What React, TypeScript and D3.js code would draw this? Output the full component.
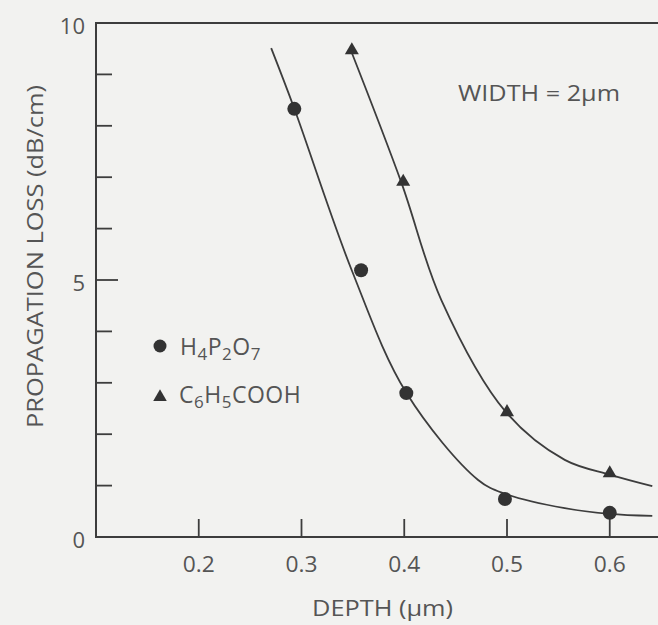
import React from "react";
import * as d3 from "d3";

// ---- data ----
const xTicks = [0.2, 0.3, 0.4, 0.5, 0.6];
const yMinorTicks = [1, 2, 3, 4, 6, 7, 8, 9];
const yMajorTicks = [0, 5, 10];

// H4P2O7 measured points
const h4Depth = [0.293, 0.358, 0.402, 0.498, 0.6];
const h4Loss = [8.33, 5.19, 2.8, 0.74, 0.47];
// C6H5COOH measured points
const c6Depth = [0.349, 0.399, 0.5, 0.6];
const c6Loss = [9.47, 6.91, 2.43, 1.24];

// fitted curves (hand-drawn in the original)
const h4FitDepth = [0.2705, 0.2927, 0.3489, 0.4022, 0.4719, 0.4981, 0.5562, 0.5998, 0.6414];
const h4FitLoss = [9.51, 8.35, 5.19, 2.8, 1.11, 0.84, 0.56, 0.45, 0.41];
const c6FitDepth = [0.348, 0.3973, 0.4361, 0.499, 0.5562, 0.6007, 0.6414];
const c6FitLoss = [9.47, 6.89, 4.61, 2.43, 1.5, 1.21, 0.99];

const W = 658;
const H = 625;
const BG = "#f2f2f0";
const INK = "#3d3d3d";
const TXT = "#555555";
const FONT = "'Open Sans', 'Noto Sans', sans-serif";

export default function App() {
  const x = d3.scaleLinear().domain([0.1, 0.2]).range([96, 198.75]);
  const y = d3.scaleLinear().domain([0, 10]).range([537, 23]);
  const x0 = x(0.1);
  const y0 = y(0);

  const line = d3
    .line<[number, number]>()
    .x((d) => x(d[0]))
    .y((d) => y(d[1]))
    .curve(d3.curveCatmullRom.alpha(0.5));

  const h4Fit = h4FitDepth.map((d, i) => [d, h4FitLoss[i]] as [number, number]);
  const c6Fit = c6FitDepth.map((d, i) => [d, c6FitLoss[i]] as [number, number]);

  const tri = d3.symbol().type(d3.symbolTriangle).size(85)();
  const triLegend = d3.symbol().type(d3.symbolTriangle).size(80)();

  return (
    <svg
      width={W}
      height={H}
      style={{ position: "absolute", left: 0, top: 0, background: BG }}
      fontFamily={FONT}
    >
      <rect x={0} y={0} width={W} height={H} fill={BG} />
      {/* axes */}
      <line x1={x0} y1={y(10)} x2={W} y2={y(10)} stroke={INK} strokeWidth={2} />
      <line x1={x0} y1={y(10) - 1} x2={x0} y2={y0 + 1} stroke={INK} strokeWidth={2} />
      <line x1={x0} y1={y0} x2={W} y2={y0} stroke={INK} strokeWidth={2} />

      {/* y ticks */}
      {yMinorTicks.map((t) => (
        <line key={"ym" + t} x1={x0} x2={x0 + 16} y1={y(t)} y2={y(t)} stroke={INK} strokeWidth={1.8} />
      ))}
      <line x1={x0} x2={x0 + 22} y1={y(5)} y2={y(5)} stroke={INK} strokeWidth={1.8} />
      {yMajorTicks.map((t) => (
        <text
          key={"yl" + t}
          x={85}
          y={y(t) + 2}
          textAnchor="end"
          dominantBaseline="central"
          fontSize={22}
          fill={TXT}
        >
          {t}
        </text>
      ))}

      {/* x ticks */}
      {xTicks.map((t) => (
        <g key={"xt" + t}>
          <line x1={x(t)} x2={x(t)} y1={y0} y2={y0 - 18} stroke={INK} strokeWidth={1.8} />
          <text x={x(t)} y={572} textAnchor="middle" fontSize={21} fill={TXT} textLength={32} lengthAdjust="spacingAndGlyphs">
            {t.toFixed(1)}
          </text>
        </g>
      ))}

      {/* axis titles */}
      <text
        transform={`translate(43, 256.5) rotate(-90)`}
        textAnchor="middle"
        fontSize={22}
        fill={TXT}
        textLength={343}
        lengthAdjust="spacingAndGlyphs"
      >
        PROPAGATION LOSS (dB/cm)
      </text>
      <text x={382.5} y={616} textAnchor="middle" fontSize={22} fill={TXT} textLength={141} lengthAdjust="spacingAndGlyphs">
        DEPTH (μm)
      </text>

      {/* annotation */}
      <text x={458} y={101} fontSize={22} fill={TXT} textLength={162} lengthAdjust="spacingAndGlyphs">
        WIDTH = 2μm
      </text>

      {/* fitted curves */}
      <path d={line(h4Fit) || ""} fill="none" stroke={INK} strokeWidth={1.8} />
      <path d={line(c6Fit) || ""} fill="none" stroke={INK} strokeWidth={1.8} />

      {/* markers */}
      {h4Depth.map((d, i) => (
        <circle key={"c" + i} cx={x(d)} cy={y(h4Loss[i])} r={7} fill="#333" />
      ))}
      {c6Depth.map((d, i) => (
        <path key={"t" + i} d={tri || ""} transform={`translate(${x(d)},${y(c6Loss[i])})`} fill="#333" />
      ))}

      {/* legend */}
      <circle cx={160} cy={346} r={6.5} fill="#333" />
      <text x={180} y={355} fontSize={23} fill={TXT} letterSpacing={0.5}>
        H
        <tspan fontSize={17} dy={5}>4</tspan>
        <tspan dy={-5}>P</tspan>
        <tspan fontSize={17} dy={5}>2</tspan>
        <tspan dy={-5}>O</tspan>
        <tspan fontSize={17} dy={5}>7</tspan>
      </text>
      <path d={triLegend || ""} transform="translate(160,397)" fill="#333" />
      <text x={179} y={403} fontSize={23} fill={TXT} letterSpacing={0.5}>
        C
        <tspan fontSize={17} dy={5}>6</tspan>
        <tspan dy={-5}>H</tspan>
        <tspan fontSize={17} dy={5}>5</tspan>
        <tspan dy={-5}>COOH</tspan>
      </text>
    </svg>
  );
}
